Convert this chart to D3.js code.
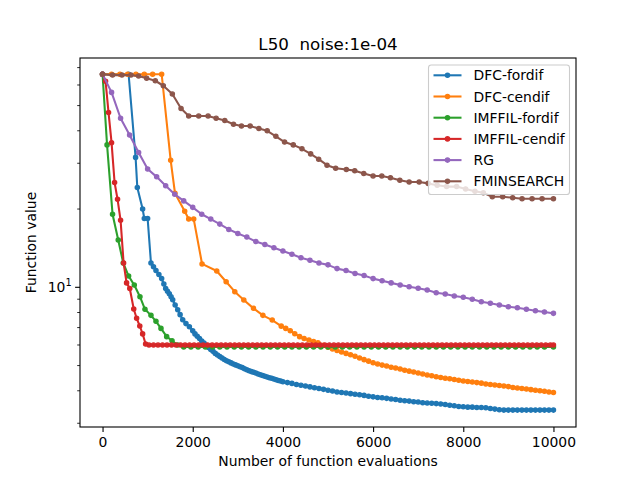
<!DOCTYPE html>
<html><head><meta charset="utf-8">
<script src="https://cdn.jsdelivr.net/npm/d3@7"></script>
<style>body{margin:0;background:#fff}svg{display:block;font-family:"DejaVu Sans",sans-serif}text{white-space:pre}</style>
</head><body>
<svg id="c" width="640" height="480"></svg>
<script>
const title = "L50  noise:1e-04";
const xLabel = "Number of function evaluations";
const yLabel = "Function value";
const seriesNames = ["DFC-fordif","DFC-cendif","IMFFIL-fordif","IMFFIL-cendif","RG","FMINSEARCH"];
const seriesColors = ["#1f77b4","#ff7f0e","#2ca02c","#d62728","#9467bd","#8c564b"];
const xTicks = [0,2000,4000,6000,8000,10000];

const dfcFordif = [[0,66],[578,66],[733,31.6],[771,24.2],[889,20.0],[926,18.4],[1000,18.4],[1074,12.4],[1130,12.0],[1185,11.6],[1250,11.2],[1311,10.8],[1360,10.3],[1400,9.9],[1440,9.65],[1481,9.45],[1520,9.2],[1556,8.95],[1610,8.55],[1667,8.2],[1720,7.85],[1778,7.5],[1850,7.25],[1926,7.05],[2000,6.80],[2050,6.62],[2100,6.48],[2150,6.35],[2200,6.22],[2250,6.10],[2300,5.98],[2350,5.87],[2400,5.77],[2450,5.67],[2500,5.57],[2550,5.49],[2600,5.42],[2650,5.35],[2700,5.28],[2750,5.22],[2800,5.17],[2850,5.12],[2900,5.07],[2950,5.03],[3000,4.99],[3050,4.95],[3100,4.91],[3150,4.86],[3200,4.82],[3250,4.78],[3300,4.74],[3350,4.71],[3400,4.68],[3450,4.64],[3500,4.61],[3550,4.58],[3600,4.55],[3650,4.52],[3700,4.49],[3750,4.47],[3800,4.44],[3850,4.41],[3900,4.38],[3950,4.36],[4000,4.33],[4100,4.30],[4200,4.27],[4300,4.23],[4400,4.20],[4500,4.17],[4600,4.14],[4700,4.11],[4800,4.08],[4900,4.05],[5000,4.02],[5100,3.99],[5200,3.96],[5300,3.94],[5400,3.92],[5500,3.90],[5600,3.88],[5700,3.86],[5800,3.84],[5900,3.81],[6000,3.79],[6100,3.77],[6200,3.76],[6300,3.74],[6400,3.72],[6500,3.70],[6600,3.68],[6700,3.66],[6800,3.65],[6900,3.63],[7000,3.62],[7100,3.60],[7200,3.59],[7300,3.58],[7400,3.57],[7500,3.56],[7600,3.54],[7700,3.52],[7800,3.50],[7900,3.48],[8000,3.47],[8100,3.46],[8200,3.46],[8300,3.45],[8400,3.45],[8500,3.44],[8600,3.42],[8700,3.40],[8800,3.38],[8900,3.37],[9000,3.37],[9100,3.37],[9200,3.37],[9300,3.37],[9400,3.37],[9500,3.37],[9600,3.37],[9700,3.37],[9800,3.37],[9900,3.37],[10000,3.37]];

const dfcCendif = [[0,66],[200,66],[385,66],[556,66],[741,66],[926,66],[1111,66],[1311,66],[1511,30.8],[1607,23.0],[1822,19.6],[1911,18.3],[2022,18.3],[2207,12.3],[2533,11.55],[2741,10.5],[2933,9.62],[3133,8.94],[3348,8.3],[3556,7.8],[3763,7.48],[3963,7.09],[4063,6.95],[4163,6.81],[4263,6.63],[4370,6.46],[4470,6.36],[4578,6.27],[4680,6.19],[4778,6.12],[4900,5.98],[5000,5.88],[5100,5.79],[5200,5.71],[5300,5.64],[5400,5.57],[5500,5.50],[5600,5.43],[5700,5.35],[5800,5.27],[5900,5.20],[6000,5.13],[6100,5.07],[6200,5.02],[6300,4.98],[6400,4.93],[6500,4.89],[6600,4.85],[6700,4.80],[6800,4.76],[6900,4.72],[7000,4.68],[7100,4.64],[7200,4.60],[7300,4.57],[7400,4.53],[7500,4.50],[7600,4.47],[7700,4.45],[7800,4.42],[7900,4.39],[8000,4.36],[8100,4.34],[8200,4.32],[8300,4.30],[8400,4.28],[8500,4.25],[8600,4.23],[8700,4.21],[8800,4.19],[8900,4.17],[9000,4.15],[9100,4.12],[9200,4.10],[9300,4.08],[9400,4.06],[9500,4.04],[9600,4.02],[9700,4.00],[9800,3.98],[9900,3.96],[10000,3.94]];

const imfilFordif = [[0,66],[100,35.3],[222,19.1],[348,15.2],[459,12.4],[578,11.05],[704,10.2],[830,9.2],[941,8.23],[1074,7.8],[1185,7.4],[1296,6.95],[1422,6.46],[1541,6.23],[1667,6.0],[1800,5.9],[1960,5.9],[2120,5.9],[2280,5.9],[2440,5.9],[2600,5.9],[2760,5.9],[2920,5.9],[3080,5.9],[3240,5.9],[3400,5.9],[3560,5.9],[3720,5.9],[3880,5.9],[4040,5.9],[4200,5.9],[4360,5.9],[4520,5.9],[4680,5.9],[4840,5.9],[5000,5.9],[5160,5.9],[5320,5.9],[5480,5.9],[5640,5.9],[5800,5.9],[5960,5.9],[6120,5.9],[6280,5.9],[6440,5.9],[6600,5.9],[6760,5.9],[6920,5.9],[7080,5.9],[7240,5.9],[7400,5.9],[7560,5.9],[7720,5.9],[7880,5.9],[8040,5.9],[8200,5.9],[8360,5.9],[8520,5.9],[8680,5.9],[8840,5.9],[9000,5.9],[9160,5.9],[9320,5.9],[9480,5.9],[9640,5.9],[9800,5.9],[10000,5.9]];

const imfilCendif = [[0,66],[67,62],[133,47],[200,36],[267,25.3],[333,21.8],[400,18.1],[467,12.4],[533,10.4],[604,9.9],[692,8.25],[756,7.6],[826,7.1],[889,6.62],[955,6.05],[1030,6.0],[1130,6.0],[1230,6.0],[1330,6.0],[1430,6.0],[1530,6.0],[1630,6.0],[1730,6.0],[1830,6.0],[1930,6.0],[2030,6.0],[2130,6.0],[2230,6.0],[2330,6.0],[2430,6.0],[2530,6.0],[2630,6.0],[2730,6.0],[2830,6.0],[2930,6.0],[3030,6.0],[3130,6.0],[3230,6.0],[3330,6.0],[3430,6.0],[3530,6.0],[3630,6.0],[3730,6.0],[3830,6.0],[3930,6.0],[4030,6.0],[4130,6.0],[4230,6.0],[4330,6.0],[4430,6.0],[4530,6.0],[4630,6.0],[4730,6.0],[4830,6.0],[4930,6.0],[5030,6.0],[5130,6.0],[5230,6.0],[5330,6.0],[5430,6.0],[5530,6.0],[5630,6.0],[5730,6.0],[5830,6.0],[5930,6.0],[6030,6.0],[6130,6.0],[6230,6.0],[6330,6.0],[6430,6.0],[6530,6.0],[6630,6.0],[6730,6.0],[6830,6.0],[6930,6.0],[7030,6.0],[7130,6.0],[7230,6.0],[7330,6.0],[7430,6.0],[7530,6.0],[7630,6.0],[7730,6.0],[7830,6.0],[7930,6.0],[8030,6.0],[8130,6.0],[8230,6.0],[8330,6.0],[8430,6.0],[8530,6.0],[8630,6.0],[8730,6.0],[8830,6.0],[8930,6.0],[9030,6.0],[9130,6.0],[9230,6.0],[9330,6.0],[9430,6.0],[9530,6.0],[9630,6.0],[9730,6.0],[9830,6.0],[9930,6.0],[10000,6.0]];

const rg = [[0,66],[200,56.2],[400,44.7],[600,38.5],[800,33.0],[1000,28.5],[1200,26.6],[1400,24.6],[1600,22.8],[1800,21.5],[2000,20.3],[2200,19.1],[2400,18.3],[2600,17.5],[2800,16.7],[3000,16.1],[3200,15.6],[3400,15.0],[3600,14.6],[3800,14.2],[4000,13.8],[4200,13.4],[4400,13.0],[4600,12.7],[4800,12.4],[5000,12.2],[5200,11.8],[5400,11.6],[5600,11.3],[5800,11.1],[6000,10.8],[6200,10.6],[6400,10.4],[6600,10.2],[6800,10.05],[7000,9.91],[7200,9.76],[7400,9.53],[7600,9.42],[7800,9.26],[8000,9.15],[8200,9.0],[8400,8.8],[8600,8.68],[8800,8.55],[9000,8.42],[9200,8.35],[9400,8.23],[9600,8.13],[9800,8.04],[10000,7.94]];

const fminsearch = [[0,66],[222,65.5],[430,65.5],[630,65.5],[800,65],[978,63.7],[1170,62.3],[1348,59.6],[1548,55.4],[1741,48.7],[1911,45.6],[2133,45.6],[2341,45.6],[2519,44.7],[2711,43.8],[2904,42.4],[3081,41.7],[3274,41.7],[3467,40.8],[3652,40.0],[3844,38.1],[4037,36.2],[4230,35.3],[4422,34.1],[4615,32.6],[4793,31.1],[4978,29.5],[5170,28.7],[5407,28.4],[5593,28.1],[5793,27.4],[6000,26.8],[6193,26.8],[6385,26.4],[6593,25.8],[6800,25.4],[7022,25.4],[7222,25.1],[7422,24.7],[7630,24.4],[7852,24.4],[8052,23.9],[8259,23.4],[8444,23.1],[8644,22.3],[8874,22.3],[9096,22.1],[9304,21.9],[9526,21.9],[9748,21.9],[10000,21.9]];

const allSeries = [dfcFordif, dfcCendif, imfilFordif, imfilCendif, rg, fminsearch];

const svg = d3.select("#c");
const L = 80, R = 576, T = 58, B = 427;
const x = d3.scaleLinear().domain([-500, 10500]).range([L, R]);
const y = d3.scaleLog().domain([Math.pow(10,0.4627), Math.pow(10,1.882)]).range([B, T]);

const fs = 13.9;
const line = d3.line().x(d => x(d[0])).y(d => y(d[1]));
const plot = svg.append("g");
allSeries.forEach((s, i) => {
  const g = plot.append("g");
  g.append("path").attr("d", line(s)).attr("fill","none").attr("stroke", seriesColors[i])
    .attr("stroke-width", 2.08).attr("stroke-linejoin","round").attr("stroke-linecap","square");
  g.selectAll("circle").data(s).join("circle")
    .attr("cx", d => x(d[0])).attr("cy", d => y(d[1])).attr("r", 2.08)
    .attr("fill", seriesColors[i]).attr("stroke", seriesColors[i]).attr("stroke-width", 1.39);
});

svg.append("rect").attr("x", L).attr("y", T).attr("width", R-L).attr("height", B-T)
  .attr("fill","none").attr("stroke","#000").attr("stroke-width",1.1);

const xa = svg.append("g").attr("transform", `translate(0,${B})`)
  .call(d3.axisBottom(x).tickValues(xTicks).tickFormat(d3.format("d")).tickSize(4.9).tickPadding(4.9));
xa.select(".domain").remove();
xa.selectAll("line").attr("stroke","#000").attr("stroke-width",1.1);
xa.selectAll("text").attr("font-size", fs).attr("fill","#000").attr("font-family","DejaVu Sans");

const minorT = [3,4,5,6,7,8,9,20,30,40,50,60,70];
const ya = svg.append("g");
minorT.forEach(v => {
  ya.append("line").attr("x1", L).attr("x2", L-2.8).attr("y1", y(v)).attr("y2", y(v))
    .attr("stroke","#000").attr("stroke-width",0.83);
});
ya.append("line").attr("x1", L).attr("x2", L-4.9).attr("y1", y(10)).attr("y2", y(10))
  .attr("stroke","#000").attr("stroke-width",1.1);
const yt = ya.append("text").attr("x", L-8.4).attr("y", y(10)+5).attr("text-anchor","end")
  .attr("font-size", fs).attr("fill","#000");
yt.append("tspan").text("10");
yt.append("tspan").attr("dy", -6).attr("font-size", 9.7).text("1");

svg.append("text").attr("x", (L+R)/2).attr("y", 49.5).attr("text-anchor","middle")
  .attr("font-size", 16.7).text(title);
svg.append("text").attr("x", (L+R)/2).attr("y", 466).attr("text-anchor","middle")
  .attr("font-size", fs).text(xLabel);
svg.append("text").attr("transform", `translate(36,${(T+B)/2}) rotate(-90)`).attr("text-anchor","middle")
  .attr("font-size", fs).text(yLabel);

const lg = svg.append("g");
lg.append("rect").attr("x", 428.5).attr("y", 65).attr("width", 141).attr("height", 129.5)
  .attr("rx", 2.8).attr("fill","#fff").attr("fill-opacity",0.8)
  .attr("stroke","#cccccc").attr("stroke-width",1.1);
seriesNames.forEach((n, i) => {
  const cy = 75.3 + i*21.2;
  lg.append("line").attr("x1", 433.5).attr("x2", 461.5).attr("y1", cy).attr("y2", cy)
    .attr("stroke", seriesColors[i]).attr("stroke-width", 2.08);
  lg.append("circle").attr("cx", 447.5).attr("cy", cy).attr("r", 2.08)
    .attr("fill", seriesColors[i]).attr("stroke", seriesColors[i]).attr("stroke-width", 1.39);
  lg.append("text").attr("x", 473.5).attr("y", cy+5).attr("font-size", fs).text(n);
});
</script>
</body></html>
